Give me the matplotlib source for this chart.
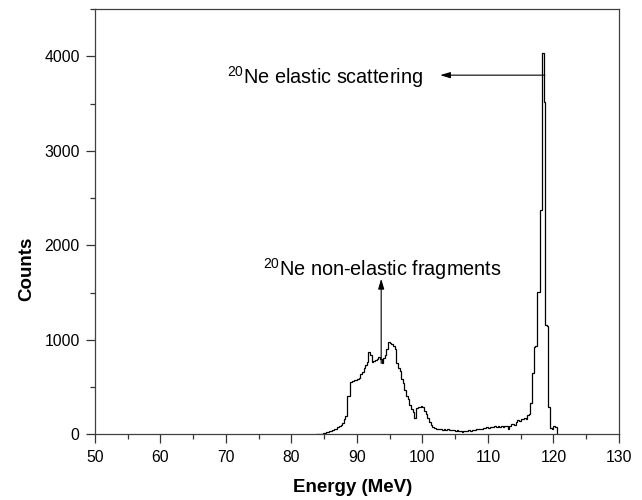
import numpy as np
import matplotlib.pyplot as plt
from matplotlib.ticker import MultipleLocator

plt.rcParams['font.family'] = ['Liberation Sans', 'DejaVu Sans']
plt.rcParams['mathtext.fontset'] = 'custom'
plt.rcParams['mathtext.rm'] = 'Liberation Sans'
plt.rcParams['mathtext.it'] = 'Liberation Sans'

# spectrum, 0.25 MeV channels starting at 83.75 MeV
bin_start = 83.75
bin_width = 0.25
counts = [
    3, 5, 6, 8, 10, 14, 22, 28, 30, 38, 45, 52, 60, 78, 90, 102, 120, 160, 190,
    400, 405, 556, 560, 570, 575, 590, 600, 640, 660, 700, 730, 770, 875, 840,
    770, 780, 790, 800, 820, 800, 750, 810, 840, 900, 980, 965, 960, 930, 905,
    750, 700, 670, 590, 540, 470, 400, 370, 310, 270, 240, 175, 275, 290, 285,
    300, 290, 250, 220, 170, 130, 100, 80, 65, 60, 58, 52, 60, 50, 55, 48, 52,
    45, 50, 42, 46, 40, 45, 38, 35, 28, 30, 38, 40, 42, 40, 45, 48, 50, 52, 55,
    60, 58, 65, 70, 72, 68, 75, 80, 78, 85, 80, 88, 82, 85, 80, 90, 85, 60, 88,
    110, 105, 100, 130, 150, 145, 165, 160, 170, 165, 200, 210, 327, 644, 925,
    930, 1505, 1510, 2368, 4030, 3520, 1154, 1150, 291, 63, 60, 85, 80,
]

# annotations: (text, text x, text y, arrow tail, arrow head)
elastic_label = r'$^{20}$Ne elastic scattering'
elastic_text_pos = (70.1, 3705)
elastic_arrow = ((118.7, 3800), (102.7, 3800))
fragment_label = r'$^{20}$Ne non-elastic fragments'
fragment_text_pos = (75.6, 1682)
fragment_arrow = ((93.7, 750), (93.7, 1645))

edges = bin_start + bin_width * np.arange(len(counts) + 1)

fig = plt.figure(figsize=(6.42, 5.0), dpi=100)
ax = fig.add_axes([0.148, 0.1314, 0.964 - 0.148, 0.982 - 0.1314])

ax.stairs(counts, edges, color='black', lw=0.9, baseline=0)

for (lbl, tpos, arr) in [(elastic_label, elastic_text_pos, elastic_arrow),
                         (fragment_label, fragment_text_pos, fragment_arrow)]:
    ax.text(tpos[0], tpos[1], lbl, fontsize=14.3, ha='left', va='baseline')
    ax.annotate('', xy=arr[1], xytext=arr[0],
                arrowprops=dict(arrowstyle='-|>,head_length=0.6,head_width=0.18',
                                color='black', lw=0.8, shrinkA=0, shrinkB=0))

ax.set_xlim(50, 130)
ax.set_ylim(0, 4500)
ax.xaxis.set_major_locator(MultipleLocator(10))
ax.xaxis.set_minor_locator(MultipleLocator(5))
ax.yaxis.set_major_locator(MultipleLocator(1000))
ax.yaxis.set_minor_locator(MultipleLocator(500))
ax.tick_params(which='both', direction='out', top=False, right=False,
               color='#333333', width=0.9)
ax.tick_params(which='major', length=6.5, pad=4.5, labelsize=11.3)
ax.tick_params(which='minor', length=3.6)

for s in ax.spines.values():
    s.set_color('#404040')
    s.set_linewidth(0.9)

ax.set_xlabel('Energy (MeV)', fontsize=13.5, fontweight='bold')
ax.set_ylabel('Counts', fontsize=13.5, fontweight='bold')
ax.xaxis.set_label_coords(0.492, -0.105)
ax.yaxis.set_label_coords(-0.115, 0.389)

fig.savefig('out.png', dpi=100)
